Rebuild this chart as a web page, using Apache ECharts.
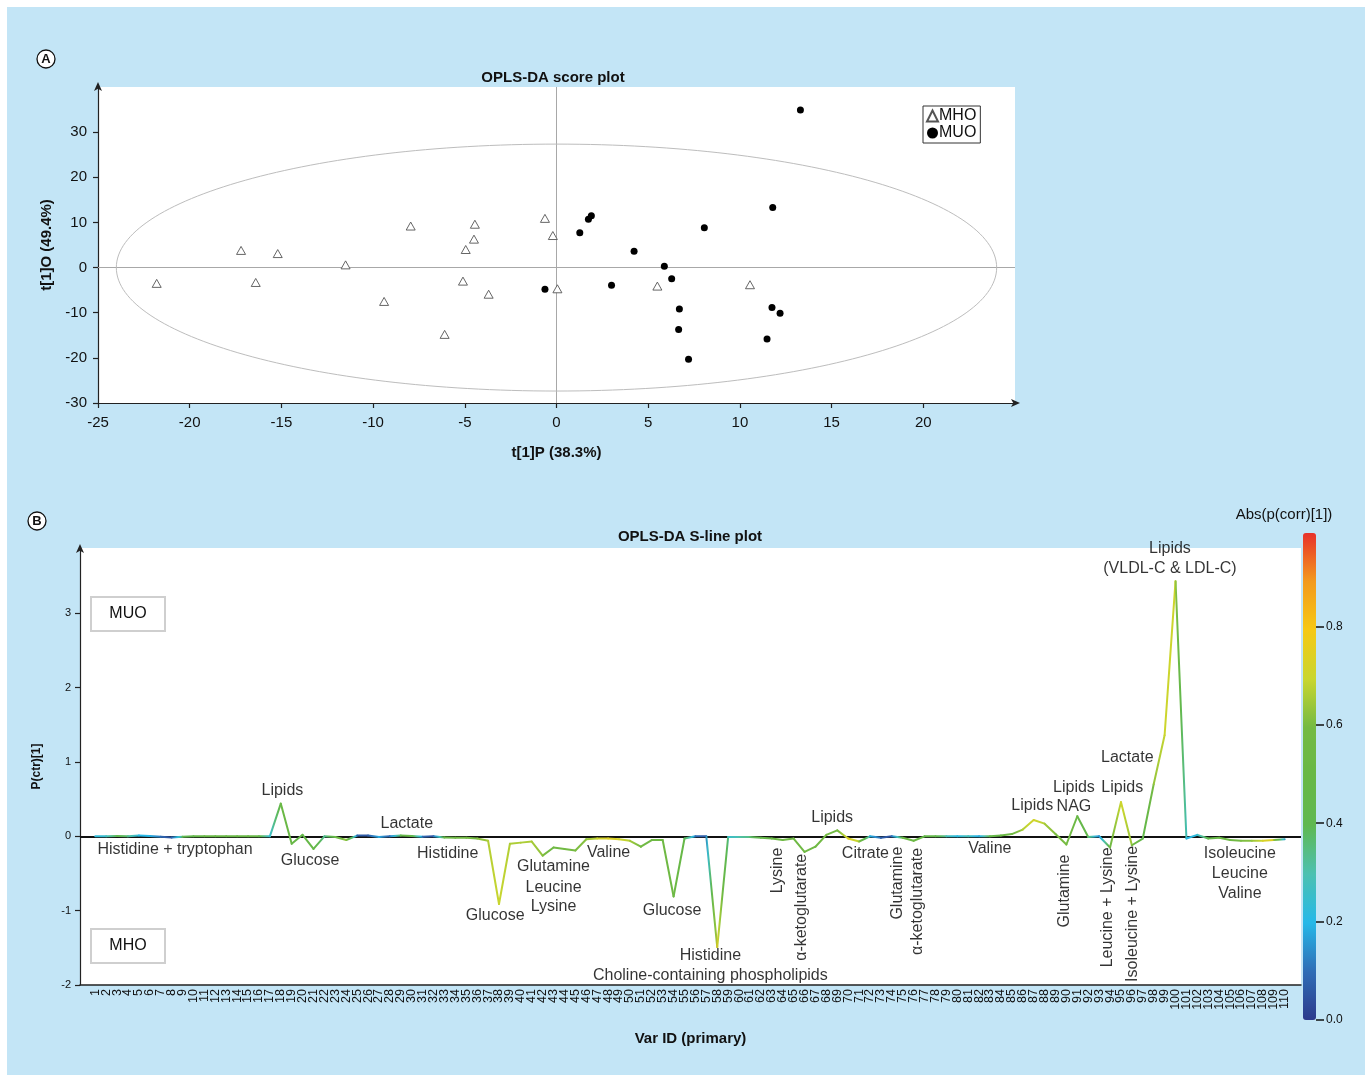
<!DOCTYPE html>
<html><head><meta charset="utf-8">
<script src="https://cdn.jsdelivr.net/npm/echarts@6/dist/echarts.min.js"></script>
<style>html,body{margin:0;padding:0;background:#fff}#c{width:1371px;height:1075px}</style>
</head><body><div id="c"></div>
<script>
// ---------- Panel A : OPLS-DA score plot ----------
const mhoX = [-21.8, -17.2, -16.4, -15.2, -11.5, -9.4, -7.95, -6.1, -5.1, -4.95, -4.5, -4.45, -3.7, -0.63, -0.2, 0.05, 5.5, 10.55];
const mhoY = [-3.5, 3.8, -3.3, 3.1, 0.6, -7.5, 9.2, -14.8, -3.0, 4.0, 6.3, 9.6, -5.9, 10.9, 7.1, -4.7, -4.1, -3.8];
const muoX = [-0.63, 1.27, 1.74, 1.9, 3.0, 4.23, 5.88, 6.28, 6.66, 6.7, 7.2, 8.06, 11.48, 11.75, 11.79, 12.19, 13.3];
const muoY = [-4.8, 7.7, 10.7, 11.5, -3.9, 3.6, 0.3, -2.5, -13.7, -9.2, -20.3, 8.8, -15.8, -8.85, 13.3, -10.1, 34.9];
const ellipseCenter = [0, 0];
const ellipseRadii = [24.0, 27.35];
const scoreXTicks = [-25, -20, -15, -10, -5, 0, 5, 10, 15, 20];
const scoreYTicks = [-30, -20, -10, 0, 10, 20, 30];

// ---------- Panel B : OPLS-DA S-line plot ----------
const varIds = [1,2,3,4,5,6,7,8,9,10,11,12,13,14,15,16,17,18,19,20,21,22,23,24,25,26,27,28,29,30,31,32,33,34,35,36,37,38,39,40,41,42,43,44,45,46,47,48,49,50,51,52,53,54,55,56,57,58,59,60,61,62,63,64,65,66,67,68,69,70,71,72,73,74,75,76,77,78,79,80,81,82,83,84,85,86,87,88,89,90,91,92,93,94,95,96,97,98,99,100,101,102,103,104,105,106,107,108,109,110];
const pCtr = [0.0,0.0,0.005,0.0,0.01,0.005,-0.005,-0.015,-0.005,0.0,
  0.0,0.0,0.0,0.0,0.0,0.0,0.0,0.44,-0.10,0.02,
  -0.17,0.0,-0.01,-0.05,0.01,0.01,-0.01,0.0,0.01,0.005,
  -0.005,0.0,-0.015,-0.02,-0.02,-0.03,-0.06,-0.91,-0.10,-0.085,
  -0.07,-0.26,-0.15,-0.17,-0.19,-0.04,-0.03,-0.03,-0.04,-0.06,
  -0.14,-0.05,-0.05,-0.81,-0.03,0.0,0.0,-1.49,-0.01,-0.01,
  -0.01,-0.02,-0.03,-0.05,-0.03,-0.21,-0.14,0.02,0.08,-0.03,
  -0.07,0.0,-0.02,0.0,-0.02,-0.06,0.0,0.0,0.0,0.0,
  0.0,0.0,0.0,0.01,0.03,0.09,0.22,0.17,0.03,-0.11,
  0.27,-0.01,0.0,-0.15,0.46,-0.12,-0.03,0.70,1.36,3.43,
  -0.03,0.02,-0.03,-0.02,-0.05,-0.06,-0.06,-0.06,-0.05,-0.04];
const absCorr = [0.22,0.25,0.42,0.35,0.2,0.2,0.1,0.03,0.4,0.45,
  0.5,0.5,0.5,0.5,0.5,0.48,0.2,0.52,0.5,0.45,
  0.5,0.3,0.5,0.66,0.08,0.05,0.2,0.05,0.45,0.5,
  0.1,0.03,0.5,0.55,0.58,0.6,0.66,0.7,0.66,0.66,
  0.66,0.62,0.55,0.58,0.6,0.62,0.7,0.74,0.72,0.66,
  0.58,0.55,0.55,0.55,0.45,0.1,0.05,0.82,0.25,0.3,
  0.35,0.45,0.5,0.55,0.55,0.55,0.55,0.6,0.55,0.76,
  0.66,0.2,0.08,0.04,0.5,0.55,0.45,0.45,0.3,0.2,
  0.3,0.15,0.45,0.5,0.55,0.66,0.72,0.66,0.6,0.6,
  0.5,0.42,0.08,0.55,0.72,0.62,0.4,0.62,0.7,0.7,
  0.2,0.22,0.45,0.5,0.55,0.6,0.62,0.72,0.75,0.1];
const sLineYTicks = [-2, -1, 0, 1, 2, 3];
const corrTicks = [0, 0.2, 0.4, 0.6, 0.8];
const corrMax = 0.99;
const corrColormap = ['#2d3a8c','#2f6db6','#25b8e8','#4cc1b1','#5fb851','#68b846','#74ba43','#c9d62f','#f6c916','#f39a1e','#e8312a'];

// annotation labels (text, Var ID position, P(ctr) position, rotation)
const annText = ['Histidine + tryptophan','Lipids','Glucose','Lactate','Histidine','Glucose','Glutamine','Leucine','Lysine','Valine',
  'Glucose','Histidine','Choline-containing phospholipids','Lysine','\u03b1-ketoglutarate','Lipids','Citrate','Glutamine','\u03b1-ketoglutarate','Valine',
  'Lipids','NAG','Lipids','Lipids','Lactate','Glutamine','Leucine + Lysine','Isoleucine + Lysine','Lipids','(VLDL-C & LDL-C)',
  'Isoleucine','Leucine','Valine'];
const annX = [8.31,18.15,20.69,29.55,33.3,37.65,43.0,43.0,43.0,48.04,
  53.86,57.37,57.37,63.57,65.77,68.53,71.58,74.49,76.38,82.98,
  86.87,90.69,90.69,95.12,95.58,89.82,93.75,96.1,99.49,99.49,
  105.9,105.9,105.9];
const annY = [-0.18,0.62,-0.33,0.167,-0.237,-1.067,-0.41,-0.69,-0.95,-0.215,
  -1.0,-1.605,-1.873,-0.46,-0.955,0.247,-0.237,-0.63,-0.876,-0.17,
  0.41,0.40,0.66,0.66,1.054,-0.735,-0.955,-1.044,3.874,3.596,
  -0.237,-0.506,-0.775];
const annRot = [0,0,0,0,0,0,0,0,0,0, 0,0,0,90,90,0,0,90,90,0, 0,0,0,0,0,90,90,90,0,0, 0,0,0];

const FONT = 'Liberation Sans, Arial, Helvetica, sans-serif';
const chart = echarts.init(document.getElementById('c'));

function corrColor(v) { return echarts.color.lerp(Math.max(0, Math.min(1, v / corrMax)), corrColormap); }

// S-line: one segment per consecutive pair of variables, coloured along by Abs(p(corr))
const segSeries = [];
for (let i = 0; i < varIds.length - 1; i++) {
  const a = absCorr[i], b = absCorr[i + 1];
  const stops = [0, 0.25, 0.5, 0.75, 1].map(t => ({ offset: t, color: corrColor(a + (b - a) * t) }));
  segSeries.push({
    type: 'line', xAxisIndex: 1, yAxisIndex: 1, silent: true, symbol: 'none', z: 3,
    data: [[varIds[i], pCtr[i]], [varIds[i + 1], pCtr[i + 1]]],
    lineStyle: { width: 2, cap: 'round', color: new echarts.graphic.LinearGradient(0, 0, 1, 0, stops) },
    emphasis: { disabled: true }, animation: false
  });
}

const annData = annText.map((t, i) => ({ value: [annX[i], annY[i]], name: t, label: { rotate: annRot[i] } }));

// S-line value axis spans [-0.4, 111.5] over 1221 px; the category label axis covers ids 0.5..110.5
const sMin = -0.4, sMax = 111.5, sLeft = 80, sWidth = 1221;
const pxPerId = sWidth / (sMax - sMin);
const catLeft = sLeft + (0.5 - sMin) * pxPerId;
const catWidth = varIds.length * pxPerId;

const option = {
  backgroundColor: '#c3e5f6',
  animation: false,
  textStyle: { fontFamily: FONT },
  grid: [
    { left: 98, top: 87, width: 917, height: 316, show: true, backgroundColor: '#fff', borderWidth: 0, outerBoundsMode: 'none' },
    { left: sLeft, top: 548, width: sWidth, height: 437, show: true, backgroundColor: '#fff', borderWidth: 0, outerBoundsMode: 'none' },
    { left: 1303, top: 533, width: 13, height: 487, show: false, outerBoundsMode: 'none' },
    { left: catLeft, top: 548, width: catWidth, height: 437, show: false, outerBoundsMode: 'none' }
  ],
  xAxis: [
    { gridIndex: 0, type: 'value', min: -25, max: 25, interval: 5,
      name: 't[1]P (38.3%)', nameLocation: 'middle', nameGap: 42, nameMoveOverlap: false,
      nameTextStyle: { fontWeight: 'bold', fontSize: 15, color: '#111' },
      axisLine: { onZero: false, lineStyle: { color: '#222', width: 1.2 }, symbol: ['none', 'arrow'], symbolSize: [6, 9], symbolOffset: [0, 5] },
      axisTick: { customValues: scoreXTicks, length: 5, lineStyle: { color: '#222', width: 1.2 } },
      axisLabel: { customValues: scoreXTicks, fontSize: 15, color: '#111', margin: 12 },
      splitLine: { show: false } },
    { gridIndex: 1, type: 'value', min: sMin, max: sMax,
      name: 'Var ID (primary)', nameLocation: 'middle', nameGap: 46, nameMoveOverlap: false,
      nameTextStyle: { fontWeight: 'bold', fontSize: 15, color: '#111' },
      axisLine: { onZero: false, lineStyle: { color: '#222', width: 1.5 } },
      axisTick: { show: false }, axisLabel: { show: false },
      splitLine: { show: false } },
    { gridIndex: 2, type: 'value', show: false, min: 0, max: 1 },
    { gridIndex: 3, type: 'category', data: varIds, boundaryGap: true,
      axisLine: { show: false, onZero: false },
      axisTick: { alignWithLabel: true, interval: 0, length: 6, lineStyle: { color: '#222', width: 1.2 } },
      axisLabel: { interval: 0, rotate: 90, fontSize: 12.5, color: '#111', margin: 4 },
      splitLine: { show: false } }
  ],
  yAxis: [
    { gridIndex: 0, type: 'value', min: -30, max: 40, interval: 10,
      name: 't[1]O (49.4%)', nameLocation: 'middle', nameGap: 44, nameMoveOverlap: false,
      nameTextStyle: { fontWeight: 'bold', fontSize: 15, color: '#111' },
      axisLine: { onZero: false, lineStyle: { color: '#222', width: 1.2 }, symbol: ['none', 'arrow'], symbolSize: [6, 9], symbolOffset: [0, 5] },
      axisTick: { customValues: scoreYTicks, length: 5, lineStyle: { color: '#222', width: 1.2 } },
      axisLabel: { customValues: scoreYTicks, fontSize: 15, color: '#111', margin: 11 },
      splitLine: { show: false } },
    { gridIndex: 1, type: 'value', min: -2, max: 3.878,
      name: 'P(ctr)[1]', nameLocation: 'middle', nameGap: 37, nameMoveOverlap: false,
      nameTextStyle: { fontWeight: 'bold', fontSize: 12, color: '#111' },
      axisLine: { onZero: false, lineStyle: { color: '#222', width: 1.2 }, symbol: ['none', 'arrow'], symbolSize: [6, 9], symbolOffset: [0, 4] },
      axisTick: { customValues: sLineYTicks, length: 5, lineStyle: { color: '#222', width: 1.2 } },
      axisLabel: { customValues: sLineYTicks, fontSize: 11, color: '#111', margin: 9 },
      splitLine: { show: false } },
    { gridIndex: 2, type: 'value', min: 0, max: corrMax, position: 'right',
      axisLine: { show: false, onZero: false },
      axisTick: { show: true, customValues: corrTicks, length: 8, lineStyle: { color: '#111', width: 1.5 } },
      axisLabel: { customValues: corrTicks, formatter: v => v.toFixed(1), fontSize: 12, color: '#111', margin: 10 },
      splitLine: { show: false } },
    { gridIndex: 3, type: 'value', show: false, min: 0, max: 1 }
  ],
  legend: {
    data: ['MHO', 'MUO'], orient: 'vertical', left: 923, top: 106, itemGap: 1,
    padding: [2, 4, 2, 3], itemWidth: 11, itemHeight: 11,
    backgroundColor: '#fff', borderColor: '#333', borderWidth: 1, borderRadius: 0,
    textStyle: { fontSize: 16, color: '#111', padding: [0, 0, 0, -4] }
  },
  visualMap: [{
    type: 'continuous', min: 0, max: corrMax, seriesIndex: [4], dimension: 1,
    inRange: { color: corrColormap }, calculable: false, hoverLink: false,
    orient: 'vertical', left: 1303, top: 533, itemWidth: 13, itemHeight: 487, padding: 0, text: null
  }],
  series: [
    { name: 'ellipse', type: 'custom', xAxisIndex: 0, yAxisIndex: 0, silent: true, z: 1,
      data: [[ellipseCenter[0], ellipseCenter[1], ellipseRadii[0], ellipseRadii[1]]],
      renderItem: (params, api) => {
        const c = api.coord([api.value(0), api.value(1)]);
        const s = api.size([api.value(2), api.value(3)]);
        return { type: 'ellipse', shape: { cx: c[0], cy: c[1], rx: s[0], ry: s[1] }, style: { fill: 'none', stroke: '#bdbdbd', lineWidth: 1 } };
      } },
    { name: 'MHO', type: 'scatter', xAxisIndex: 0, yAxisIndex: 0, symbol: 'triangle', symbolSize: [9, 8], z: 3,
      data: mhoX.map((x, i) => [x, mhoY[i]]),
      itemStyle: { color: '#fff', borderColor: '#555', borderWidth: 0.9, opacity: 1 },
      markLine: { silent: true, z: 1, symbol: ['none', 'none'], label: { show: false },
        lineStyle: { color: '#a8a8a8', width: 1, type: 'solid' }, data: [{ xAxis: 0 }, { yAxis: 0 }] } },
    { name: 'MUO', type: 'scatter', xAxisIndex: 0, yAxisIndex: 0, symbol: 'circle', symbolSize: 7, z: 3,
      data: muoX.map((x, i) => [x, muoY[i]]),
      itemStyle: { color: '#000', opacity: 1 } },
    { name: 'annotations', type: 'scatter', xAxisIndex: 1, yAxisIndex: 1, symbolSize: 1, silent: true, clip: false, z: 4,
      itemStyle: { color: 'rgba(0,0,0,0)' },
      label: { show: true, position: 'inside', formatter: '{b}', fontSize: 16, color: '#000', textBorderWidth: 0, fontFamily: FONT },
      data: annData,
      markLine: { silent: true, z: 1, symbol: ['none', 'none'], label: { show: false },
        lineStyle: { color: '#111', width: 2, type: 'solid' }, data: [{ yAxis: 0 }] } },
    { name: 'colorbar', type: 'scatter', xAxisIndex: 2, yAxisIndex: 2, data: [] },
    { name: 'idAxis', type: 'scatter', xAxisIndex: 3, yAxisIndex: 3, data: [] }
  ].concat(segSeries),
  graphic: [
    { type: 'rect', shape: { x: 0, y: 0, width: 1371, height: 7 }, style: { fill: '#fff' }, silent: true },
    { type: 'rect', shape: { x: 0, y: 0, width: 7, height: 1075 }, style: { fill: '#fff' }, silent: true },
    { type: 'rect', shape: { x: 1365, y: 0, width: 6, height: 1075 }, style: { fill: '#fff' }, silent: true },
    { type: 'circle', shape: { cx: 46, cy: 59, r: 9 }, style: { fill: '#fff', stroke: '#111', lineWidth: 1.3 } },
    { type: 'text', x: 46, y: 59, style: { text: 'A', font: 'bold 13px ' + FONT, fill: '#111', align: 'center', verticalAlign: 'middle' } },
    { type: 'circle', shape: { cx: 37, cy: 521, r: 9 }, style: { fill: '#fff', stroke: '#111', lineWidth: 1.3 } },
    { type: 'text', x: 37, y: 521, style: { text: 'B', font: 'bold 13px ' + FONT, fill: '#111', align: 'center', verticalAlign: 'middle' } },
    { type: 'text', x: 553, y: 78, style: { text: 'OPLS-DA score plot', font: 'bold 15px ' + FONT, fill: '#111', align: 'center', verticalAlign: 'middle' } },
    { type: 'text', x: 690, y: 537, style: { text: 'OPLS-DA S-line plot', font: 'bold 15px ' + FONT, fill: '#111', align: 'center', verticalAlign: 'middle' } },
    { type: 'text', x: 1284, y: 515, style: { text: 'Abs(p(corr)[1])', font: '15px ' + FONT, fill: '#111', align: 'center', verticalAlign: 'middle' } },
    { type: 'rect', z: 10, shape: { x: 91, y: 597, width: 74, height: 34 }, style: { fill: '#fff', stroke: '#cfcfcf', lineWidth: 2 } },
    { type: 'text', z: 11, x: 128, y: 614, style: { text: 'MUO', font: '16px ' + FONT, fill: '#111', align: 'center', verticalAlign: 'middle' } },
    { type: 'rect', z: 10, shape: { x: 91, y: 929, width: 74, height: 34 }, style: { fill: '#fff', stroke: '#cfcfcf', lineWidth: 2 } },
    { type: 'text', z: 11, x: 128, y: 946, style: { text: 'MHO', font: '16px ' + FONT, fill: '#111', align: 'center', verticalAlign: 'middle' } }
  ]
};
chart.setOption(option);
</script></body></html>
